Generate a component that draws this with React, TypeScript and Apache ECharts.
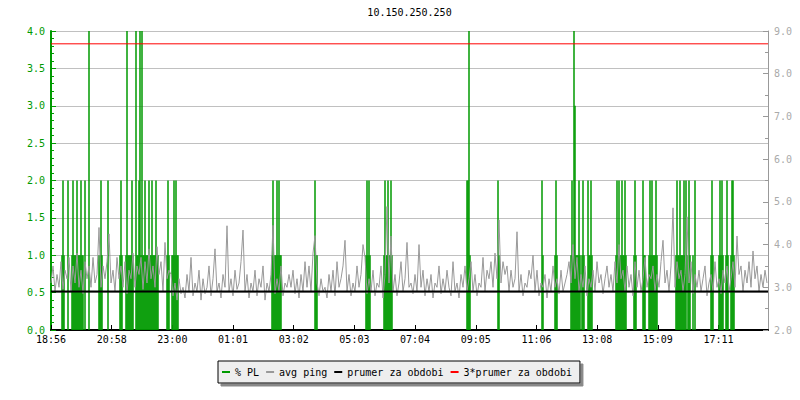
import React, { useEffect, useRef } from "react";
import * as echarts from "echarts";

const TITLE = "10.150.250.250";
const xTickLabels = ["18:56", "20:58", "23:00", "01:01", "03:02", "05:03", "07:04", "09:05", "11:06", "13:08", "15:09", "17:11"];
const X_TICK_STEP = 121.36; // minutes between labelled ticks
const X_MAX = 1434; // minutes shown
const SAMPLE_STEP = 4; // minutes between ping samples

// avg ping (right axis), one value every 4 minutes from 18:56
const pingA = [3.1, 3.5, 2.9, 3.3, 3.0, 3.6, 2.95, 3.4, 3.2, 3.7,
  2.9, 3.5, 3.1, 3.8, 3.0, 3.4, 2.85, 3.6, 3.2, 3.5,
  3.0, 3.7, 3.1, 3.3, 4.4, 3.0, 3.5, 3.2, 3.6, 4.25,
  3.1, 3.4, 2.9, 3.7, 3.2, 3.5, 3.0, 3.6, 2.85, 3.4,
  3.2, 3.8, 3.0, 3.5, 3.3, 3.7, 2.95, 3.6, 3.1, 3.9,
  3.2, 3.5, 3.0, 3.95, 3.3, 3.6, 2.9, 4.05, 3.2, 3.4];
const pingB = [3.3, 2.8, 3.1, 2.7, 3.2, 2.85, 3.0, 2.75, 3.3, 2.9,
  3.7, 2.8, 3.1, 2.9, 3.4, 2.7, 3.2, 2.85, 3.0, 3.5,
  2.8, 3.2, 3.9, 2.9, 3.1, 2.75, 3.3, 3.0, 4.44, 2.9,
  3.2, 2.8, 3.4, 2.95, 3.1, 3.6, 4.34, 2.9, 3.3, 2.75,
  3.1, 2.9, 3.4, 2.8, 3.2, 3.0, 3.5, 2.7, 3.1, 2.9,
  3.3, 4.45, 2.85, 3.2, 2.9, 3.5, 2.8, 3.1, 3.0, 3.3];
const pingC = [3.0, 3.4, 2.85, 3.2, 2.75, 3.3, 2.9, 3.6, 3.0, 3.5,
  2.9, 3.8, 4.21, 3.1, 2.8, 3.2, 2.9, 3.0, 2.75, 3.3,
  2.9, 3.4, 2.8, 3.6, 3.0, 3.2, 3.5, 4.1, 2.9, 3.3,
  2.8, 3.1, 2.9, 3.5, 3.0, 3.3, 4.0, 3.7, 2.85, 3.2,
  2.9, 3.4, 2.8, 3.1, 3.0, 3.5, 2.75, 3.3, 4.89, 3.1,
  4.2, 2.9, 3.3, 2.8, 3.1, 3.6, 2.9, 3.2, 4.05, 3.0];
const pingD = [3.1, 2.85, 3.3, 2.9, 4.0, 3.0, 3.4, 2.8, 3.2, 2.9,
  3.3, 2.75, 3.1, 3.0, 3.5, 2.85, 3.2, 2.9, 3.4, 3.0,
  2.8, 3.6, 2.9, 3.1, 2.75, 3.3, 3.0, 3.5, 2.9, 3.2,
  3.6, 2.9, 3.3, 2.8, 3.1, 3.0, 3.7, 2.9, 3.4, 3.2,
  3.6, 3.0, 3.8, 3.2, 4.58, 3.1, 3.6, 3.3, 3.5, 2.9,
  3.4, 3.0, 3.2, 4.3, 2.9, 3.3, 2.8, 3.1, 3.0, 3.4];
const pingE = [3.2, 3.75, 2.9, 3.4, 2.8, 3.1, 3.0, 3.3, 2.75, 3.2,
  2.9, 3.5, 3.0, 3.2, 2.85, 3.4, 2.9, 3.1, 3.3, 3.6,
  3.1, 4.0, 3.2, 3.7, 2.9, 3.3, 3.0, 3.5, 2.8, 3.2,
  3.0, 3.4, 2.9, 3.6, 3.1, 3.3, 2.85, 3.2, 3.5, 3.0,
  3.3, 2.9, 3.6, 3.1, 4.0, 3.2, 3.4, 2.9, 3.5, 3.0,
  3.3, 2.8, 3.6, 3.0, 3.4, 2.9, 3.2, 3.7, 3.0, 3.3];
const pingF = [3.2, 3.5, 2.9, 3.3, 3.0, 3.6, 4.1, 3.1, 3.4, 2.9,
  3.5, 4.86, 3.0, 3.6, 3.2, 3.4, 2.9, 3.3, 4.65, 3.1,
  3.6, 2.85, 3.3, 3.0, 3.4, 2.9, 3.2, 3.5, 2.8, 3.1,
  3.3, 2.9, 3.6, 3.0, 3.2, 2.85, 3.4, 3.1, 3.5, 2.9,
  3.2, 3.6, 3.0, 4.2, 3.3, 3.5, 2.9, 3.4, 3.1, 3.6,
  3.0, 3.85, 3.2, 3.5, 2.9, 3.3, 3.0, 3.4, 3.1];

const MEAN_PING = 2.9; // "prumer za obdobi"

// packet loss events: minutes after 18:56, grouped by loss level (%)
const plLevel4 = [76, 152, 170, 178, 182, 836, 1046];
const plLevel3 = [1048];
const plLevel2 = [24, 34, 44, 52, 60, 68, 100, 114, 140, 162, 176, 188, 196, 202, 210, 234, 246, 250,
  444, 452, 456, 528, 632, 636, 668, 674, 680,
  832, 834, 894, 982, 1010, 1042, 1056, 1064, 1074,
  1080, 1132, 1136, 1142, 1148, 1168, 1184, 1198, 1202, 1210, 1252, 1258, 1266, 1270, 1276, 1288, 1322, 1338, 1342, 1352, 1362, 1364];
const plLevel1 = [22, 26, 42, 46, 48, 50, 54, 56, 58, 62, 64, 96, 98, 102, 138, 142, 150, 154, 156, 158, 160, 164, 172, 174, 180, 184, 186, 190, 192, 194, 198, 200, 204, 206, 208, 212, 214, 232, 236, 242, 244, 248, 252, 254,
  442, 446, 448, 450, 454, 458, 460, 530, 532, 630, 634, 638, 666, 670, 672, 676, 678, 682,
  838, 896, 984, 1008, 1012, 1040, 1044, 1050, 1052, 1054, 1058, 1062, 1066, 1076,
  1078, 1082, 1130, 1134, 1138, 1140, 1144, 1146, 1150, 1166, 1170, 1186, 1188, 1196, 1200, 1204, 1206, 1208, 1212, 1250, 1254, 1256, 1260, 1262, 1264, 1268, 1274, 1278, 1284, 1320, 1324, 1336, 1340, 1344, 1350, 1354, 1360, 1366];

const GREEN = "#009a00";
const GREY = "#999999";
const FONT = "DejaVu Sans Mono";

export default function App() {
  const ref = useRef<HTMLDivElement>(null);
  useEffect(() => {
    if (!ref.current) return;
    const chart = echarts.init(ref.current, undefined, { renderer: "svg" });
    const ping = [...pingA, ...pingB, ...pingC, ...pingD, ...pingE, ...pingF].map((v, i) => [i * SAMPLE_STEP, v]);
    const pl: number[][] = [
      ...plLevel1.map((m) => [m, 1]),
      ...plLevel2.map((m) => [m, 2]),
      ...plLevel3.map((m) => [m, 3]),
      ...plLevel4.map((m) => [m, 4]),
    ];
    chart.setOption({
      animation: false,
      backgroundColor: "#ffffff",
      graphic: [
        {
          type: "text",
          x: 409.5,
          y: 12,
          style: { text: TITLE, font: `10px '${FONT}'`, fill: "#000", textAlign: "center", textVerticalAlign: "middle" },
        },
      ],
      grid: { left: 51, right: 32, top: 31, bottom: 70 },
      legend: {
        left: 218,
        top: 361,
        icon: "rect",
        itemWidth: 8,
        itemHeight: 2,
        itemGap: 7,
        selectedMode: false,
        backgroundColor: "#eeeeee",
        borderColor: "#000",
        borderWidth: 1,
        padding: [6, 8, 6, 4],
        shadowColor: "#888888",
        shadowOffsetX: 3,
        shadowOffsetY: 3,
        shadowBlur: 0,
        textStyle: { fontFamily: FONT, fontSize: 10, color: "#000" },
        data: ["% PL", "avg ping", "prumer za obdobi", "3*prumer za obdobi"],
      },
      xAxis: {
        type: "value",
        min: 0,
        max: X_MAX,
        interval: X_TICK_STEP,
        axisLine: { lineStyle: { color: "#000", width: 2 } },
        axisTick: { inside: true, length: 5, lineStyle: { color: "#000" } },
        axisLabel: {
          color: "#000",
          fontFamily: FONT,
          fontSize: 10,
          margin: 4,
          showMaxLabel: false,
          formatter: (v: number) => xTickLabels[Math.round(v / X_TICK_STEP)] ?? "",
        },
        splitLine: { show: false },
      },
      yAxis: [
        {
          type: "value",
          min: 0,
          max: 4,
          interval: 0.5,
          position: "left",
          axisLine: { show: true, lineStyle: { color: GREEN, width: 2 } },
          axisTick: { show: true, inside: true, length: 5, lineStyle: { color: GREEN } },
          minorTick: { show: true, splitNumber: 5, length: 3, lineStyle: { color: GREEN } },
          axisLabel: { color: GREEN, fontFamily: FONT, fontSize: 10, margin: 6, formatter: (v: number) => v.toFixed(1) },
          splitLine: { show: true, lineStyle: { color: "#c0c0c0", width: 1 } },
        },
        {
          type: "value",
          min: 2,
          max: 9,
          interval: 1,
          position: "right",
          axisLine: { show: true, lineStyle: { color: GREY, width: 1 } },
          axisTick: { show: true, inside: true, length: 5, lineStyle: { color: GREY } },
          minorTick: { show: true, splitNumber: 2, length: 3, lineStyle: { color: GREY } },
          axisLabel: { color: "#aaaaaa", fontFamily: FONT, fontSize: 10, margin: 6, formatter: (v: number) => v.toFixed(1) },
          splitLine: { show: false },
        },
      ],
      series: [
        {
          name: "% PL",
          type: "bar",
          yAxisIndex: 0,
          data: pl,
          barWidth: 1.5,
          itemStyle: { color: GREEN },
        },
        {
          name: "avg ping",
          type: "line",
          yAxisIndex: 1,
          data: ping,
          showSymbol: false,
          symbol: "none",
          itemStyle: { color: GREY },
          lineStyle: { color: GREY, width: 1 },
        },
        {
          name: "prumer za obdobi",
          type: "line",
          yAxisIndex: 1,
          data: [[0, MEAN_PING], [X_MAX, MEAN_PING]],
          symbol: "none",
          itemStyle: { color: "#000" },
          lineStyle: { color: "#000", width: 2 },
        },
        {
          name: "3*prumer za obdobi",
          type: "line",
          yAxisIndex: 1,
          data: [[0, 3 * MEAN_PING], [X_MAX, 3 * MEAN_PING]],
          symbol: "none",
          itemStyle: { color: "#ff0000" },
          lineStyle: { color: "#ff0000", width: 1 },
        },
      ],
    });
    return () => chart.dispose();
  }, []);
  return <div ref={ref} style={{ position: "fixed", left: 0, top: 0, width: 800, height: 400 }} />;
}
